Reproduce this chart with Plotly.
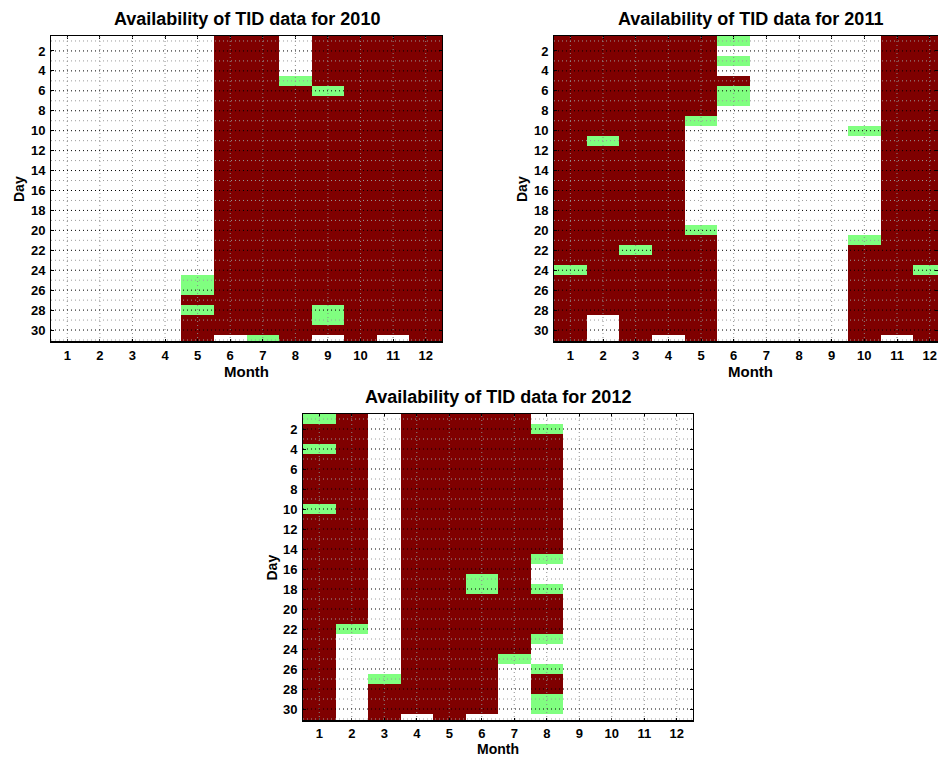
import plotly.graph_objects as go

# Data: one string per month (days 1..31, grouped by 5 days); 0 = no data, 1 = partial, 2 = available
months = list(range(1, 13))
days = list(range(1, 32))

data_2010 = [
    "00000 00000 00000 00000 00000 00000 0",
    "00000 00000 00000 00000 00000 00000 0",
    "00000 00000 00000 00000 00000 00000 0",
    "00000 00000 00000 00000 00000 00000 0",
    "00000 00000 00000 00000 00001 12122 2",
    "22222 22222 22222 22222 22222 22222 0",
    "22222 22222 22222 22222 22222 22222 1",
    "00001 22222 22222 22222 22222 22222 2",
    "22222 12222 22222 22222 22222 22112 0",
    "22222 22222 22222 22222 22222 22222 2",
    "22222 22222 22222 22222 22222 22222 0",
    "22222 22222 22222 22222 22222 22222 2",
]

data_2011 = [
    "22222 22222 22222 22222 22212 22222 2",
    "22222 22222 12222 22222 22222 22200 0",
    "22222 22222 22222 22222 21222 22222 2",
    "22222 22222 22222 22222 22222 22222 0",
    "22222 22210 00000 00001 22222 22222 2",
    "10102 11000 00000 00000 00000 00000 0",
    "00000 00000 00000 00000 00000 00000 0",
    "00000 00000 00000 00000 00000 00000 0",
    "00000 00000 00000 00000 00000 00000 0",
    "00000 00001 00000 00000 12222 22222 2",
    "22222 22222 22222 22222 22222 22222 0",
    "22222 22222 22222 22222 22212 22222 2",
]

data_2012 = [
    "12212 22221 22222 22222 22222 22222 2",
    "22222 22222 22222 22222 21000 00000 0",
    "00000 00000 00000 00000 00000 01222 2",
    "22222 22222 22222 22222 22222 22222 0",
    "22222 22222 22222 22222 22222 22222 2",
    "22222 22222 22222 21122 22222 22222 0",
    "22222 22222 22222 22222 22221 00000 0",
    "01222 22222 22221 00122 22100 12211 0",
    "00000 00000 00000 00000 00000 00000 0",
    "00000 00000 00000 00000 00000 00000 0",
    "00000 00000 00000 00000 00000 00000 0",
    "00000 00000 00000 00000 00000 00000 0",
]

years = ["2010", "2011", "2012"]
year_data = [data_2010, data_2011, data_2012]

W, H = 938, 759
# plot areas in pixels: (left, right, top, bottom, xmax_visible)
boxes = [
    (51, 442, 36, 342, 12.5),
    (554, 938, 36, 342, 12.255),
    (303, 693, 414, 721, 12.5),
]

FONT = "Liberation Sans, Arial, Helvetica, sans-serif"
RED = "#7f0000"
GREEN = "#80ff80"
colorscale = [[0, "white"], [0.25, "white"], [0.25, GREEN], [0.75, GREEN], [0.75, RED], [1, RED]]

fig = go.Figure()
shapes = []
annotations = []

for i, (yr, dat) in enumerate(zip(years, year_data)):
    cols = [[int(c) for c in s.replace(" ", "")] for s in dat]
    z = [[cols[m][d] for m in range(12)] for d in range(31)]
    sfx = "" if i == 0 else str(i + 1)
    xa, ya = "x" + sfx, "y" + sfx
    fig.add_trace(go.Heatmap(
        z=z, x=months, y=days, zmin=0, zmax=2, colorscale=colorscale,
        showscale=False, xaxis=xa, yaxis=ya, hoverinfo="skip",
    ))
    l, r, t, b, xmax = boxes[i]
    dom_x = [l / W, r / W]
    dom_y = [1 - b / H, 1 - t / H]
    axis_common = dict(
        showline=True, linecolor="black", linewidth=1, mirror="ticks",
        ticks="inside", ticklen=3, tickcolor="black", showgrid=False, zeroline=False,
        tickfont=dict(family=FONT, size=13, color="black", weight="bold"),
        layer="above traces",
    )
    fig.layout["xaxis" + sfx] = dict(
        domain=dom_x, range=[0.5, xmax], tickvals=months, anchor=ya,
        ticklabelstandoff=1 if i < 2 else 0, **axis_common)
    fig.layout["yaxis" + sfx] = dict(
        domain=dom_y, range=[31.2, 0.5], tickvals=list(range(2, 31, 2)), anchor=xa,
        ticklabelstandoff=2, **axis_common)

    # dotted grid lines drawn above the heatmap
    for m in months:
        shapes.append(dict(type="line", xref=xa, yref=ya + " domain", x0=m, x1=m, y0=0, y1=1,
                           line=dict(color="#8a8a8a", width=1, dash="1px,3px"), layer="above"))
    for d in range(1, 32):
        major = d % 2 == 0
        shapes.append(dict(type="line", xref=xa + " domain", yref=ya, x0=0, x1=1, y0=d, y1=d,
                           line=dict(color="black" if major else "#9a9a9a", width=1,
                                     dash="1px,3px"), layer="above"))
    # thicker bottom axis line
    shapes.append(dict(type="line", xref=xa + " domain", yref=ya + " domain", x0=0, x1=1,
                       y0=0, y1=0, line=dict(color="black", width=2), layer="above"))

    full_r = l + (r - l) * 12 / (xmax - 0.5)
    cx = (l + full_r) / 2 / W
    # title and axis titles
    annotations.append(dict(
        text="Availability of TID data for " + yr, xref="paper", yref="paper",
        x=cx, y=1 - (t - 17) / H, xanchor="center", yanchor="middle", showarrow=False,
        font=dict(family=FONT, size=18, color="black", weight="bold")))
    if i < 2:
        annotations.append(dict(
            text="Month", xref="paper", yref="paper",
            x=cx, y=1 - (b + 29) / H, xanchor="center", yanchor="middle", showarrow=False,
            font=dict(family=FONT, size=15, color="black", weight="bold")))
    else:
        annotations.append(dict(
            text="Month", xref="paper", yref="paper",
            x=cx, y=0, xanchor="center", yanchor="bottom", showarrow=False,
            font=dict(family=FONT, size=14, color="black", weight="bold")))
    annotations.append(dict(
        text="Day", xref="paper", yref="paper", x=(l - 32) / W, y=1 - (t + b) / 2 / H,
        xanchor="center", yanchor="middle", textangle=-90, showarrow=False,
        font=dict(family=FONT, size=14, color="black", weight="bold")))

fig.update_layout(
    width=W, height=H, margin=dict(l=0, r=0, t=0, b=0),
    paper_bgcolor="white", plot_bgcolor="white",
    shapes=shapes, annotations=annotations, showlegend=False,
    font=dict(family=FONT),
)

fig.write_html("out.html")
